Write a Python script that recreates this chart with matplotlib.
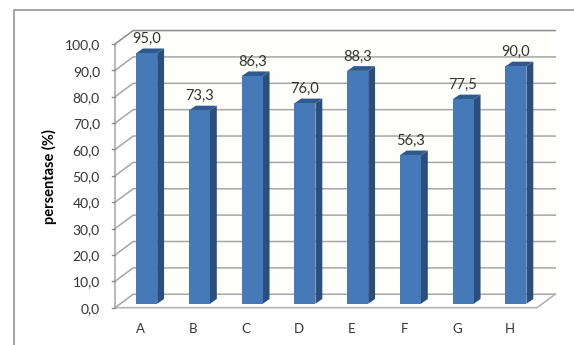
import matplotlib
matplotlib.use('Agg')
import matplotlib.pyplot as plt
import numpy as np

categories = ['A', 'B', 'C', 'D', 'E', 'F', 'G', 'H']
values = [95.0, 73.3, 86.3, 76.0, 88.3, 56.3, 77.5, 90.0]
y_ticks = np.arange(0, 101, 10)

W, H = 574, 345
plt.rcParams['font.family'] = ['Lato', 'DejaVu Sans']

fig = plt.figure(figsize=(W/100, H/100), dpi=100)
left, right, bottom, top = 115, 537, 307.7, 44
ax = fig.add_axes([left/W, 1 - bottom/H, (right - left)/W, (bottom - top)/H])
ax.set_xlim(-0.5, 7.5)
ax.set_ylim(0, 100)
ax.axis('off')

# depth of the fake 3d box, in category and value units
wall_dx, wall_dy = 0.345, 5.1
bar_dx, bar_dy = 0.10, 1.5
side_dx, side_dy = 0.13, 1.8
half_width = 0.2

grid = '#a6a6a6'

# back wall and floor
ax.fill([-0.5 + wall_dx, 7.5 + wall_dx, 7.5 + wall_dx, -0.5 + wall_dx],
        [wall_dy, wall_dy, 100 + wall_dy, 100 + wall_dy],
        color='#fefefa', lw=0, clip_on=False, zorder=1)
for v in y_ticks:
    c = '#8c8c8c' if v == 100 else grid
    ax.plot([-0.5, -0.5 + wall_dx, 7.5 + wall_dx], [v, v + wall_dy, v + wall_dy],
            color=c, lw=1.1, clip_on=False, zorder=2)
ax.plot([-0.5, -0.5], [0, 100], color=grid, lw=1.1, clip_on=False, zorder=2)
ax.plot([-0.5, 7.5, 7.5 + wall_dx], [0, 0, wall_dy], color='#b4b4b4', lw=1.2,
        clip_on=False, zorder=2)
for v in y_ticks:
    ax.plot([-0.5 - 0.06, -0.5], [v, v], color='#8c8c8c', lw=1, clip_on=False, zorder=2)
    ax.text(-0.785, v - 0.5, f'{v:.1f}'.replace('.', ','), ha='right', va='center',
            fontsize=10, color='#333333')

# bars with their side and top faces
for i, (name, v) in enumerate(zip(categories, values)):
    x0 = i - half_width + bar_dx
    x1 = i + half_width + bar_dx
    y0 = bar_dy
    y1 = v + bar_dy
    ax.fill([x1, x1 + side_dx, x1 + side_dx, x1],
            [y0, y0 + side_dy, y1 + side_dy, y1], color='#2b4f7c', lw=0, zorder=3)
    ax.fill([x0, x1, x1 + side_dx, x0 + side_dx],
            [y1, y1, y1 + side_dy, y1 + side_dy], color='#2f5a8f', lw=0, zorder=3)
    ax.fill([x0, x1, x1, x0], [y0, y0, y1, y1], color='#4679b8', lw=0, zorder=4)
    ax.text(i + bar_dx, y1 + side_dy + 3.7, f'{v:.1f}'.replace('.', ','),
            ha='center', va='center', fontsize=10.5, color='#333333', zorder=5)
    ax.text(i - 0.02, -8, name, ha='center', va='center', fontsize=9.5, color='#333333')

fig.text(49/W, 1 - 177/H, 'persentase (%)', rotation=90, ha='center', va='center',
         fontsize=10.5, fontweight='bold', color='black')

# outer frame, open on the right and at the bottom
fig.add_artist(plt.Line2D([13.7/W, 13.7/W, 1], [0, 1 - 9.7/H, 1 - 9.7/H],
                          color='#8a8a8a', lw=1.1))

fig.savefig('out.png', dpi=100)
